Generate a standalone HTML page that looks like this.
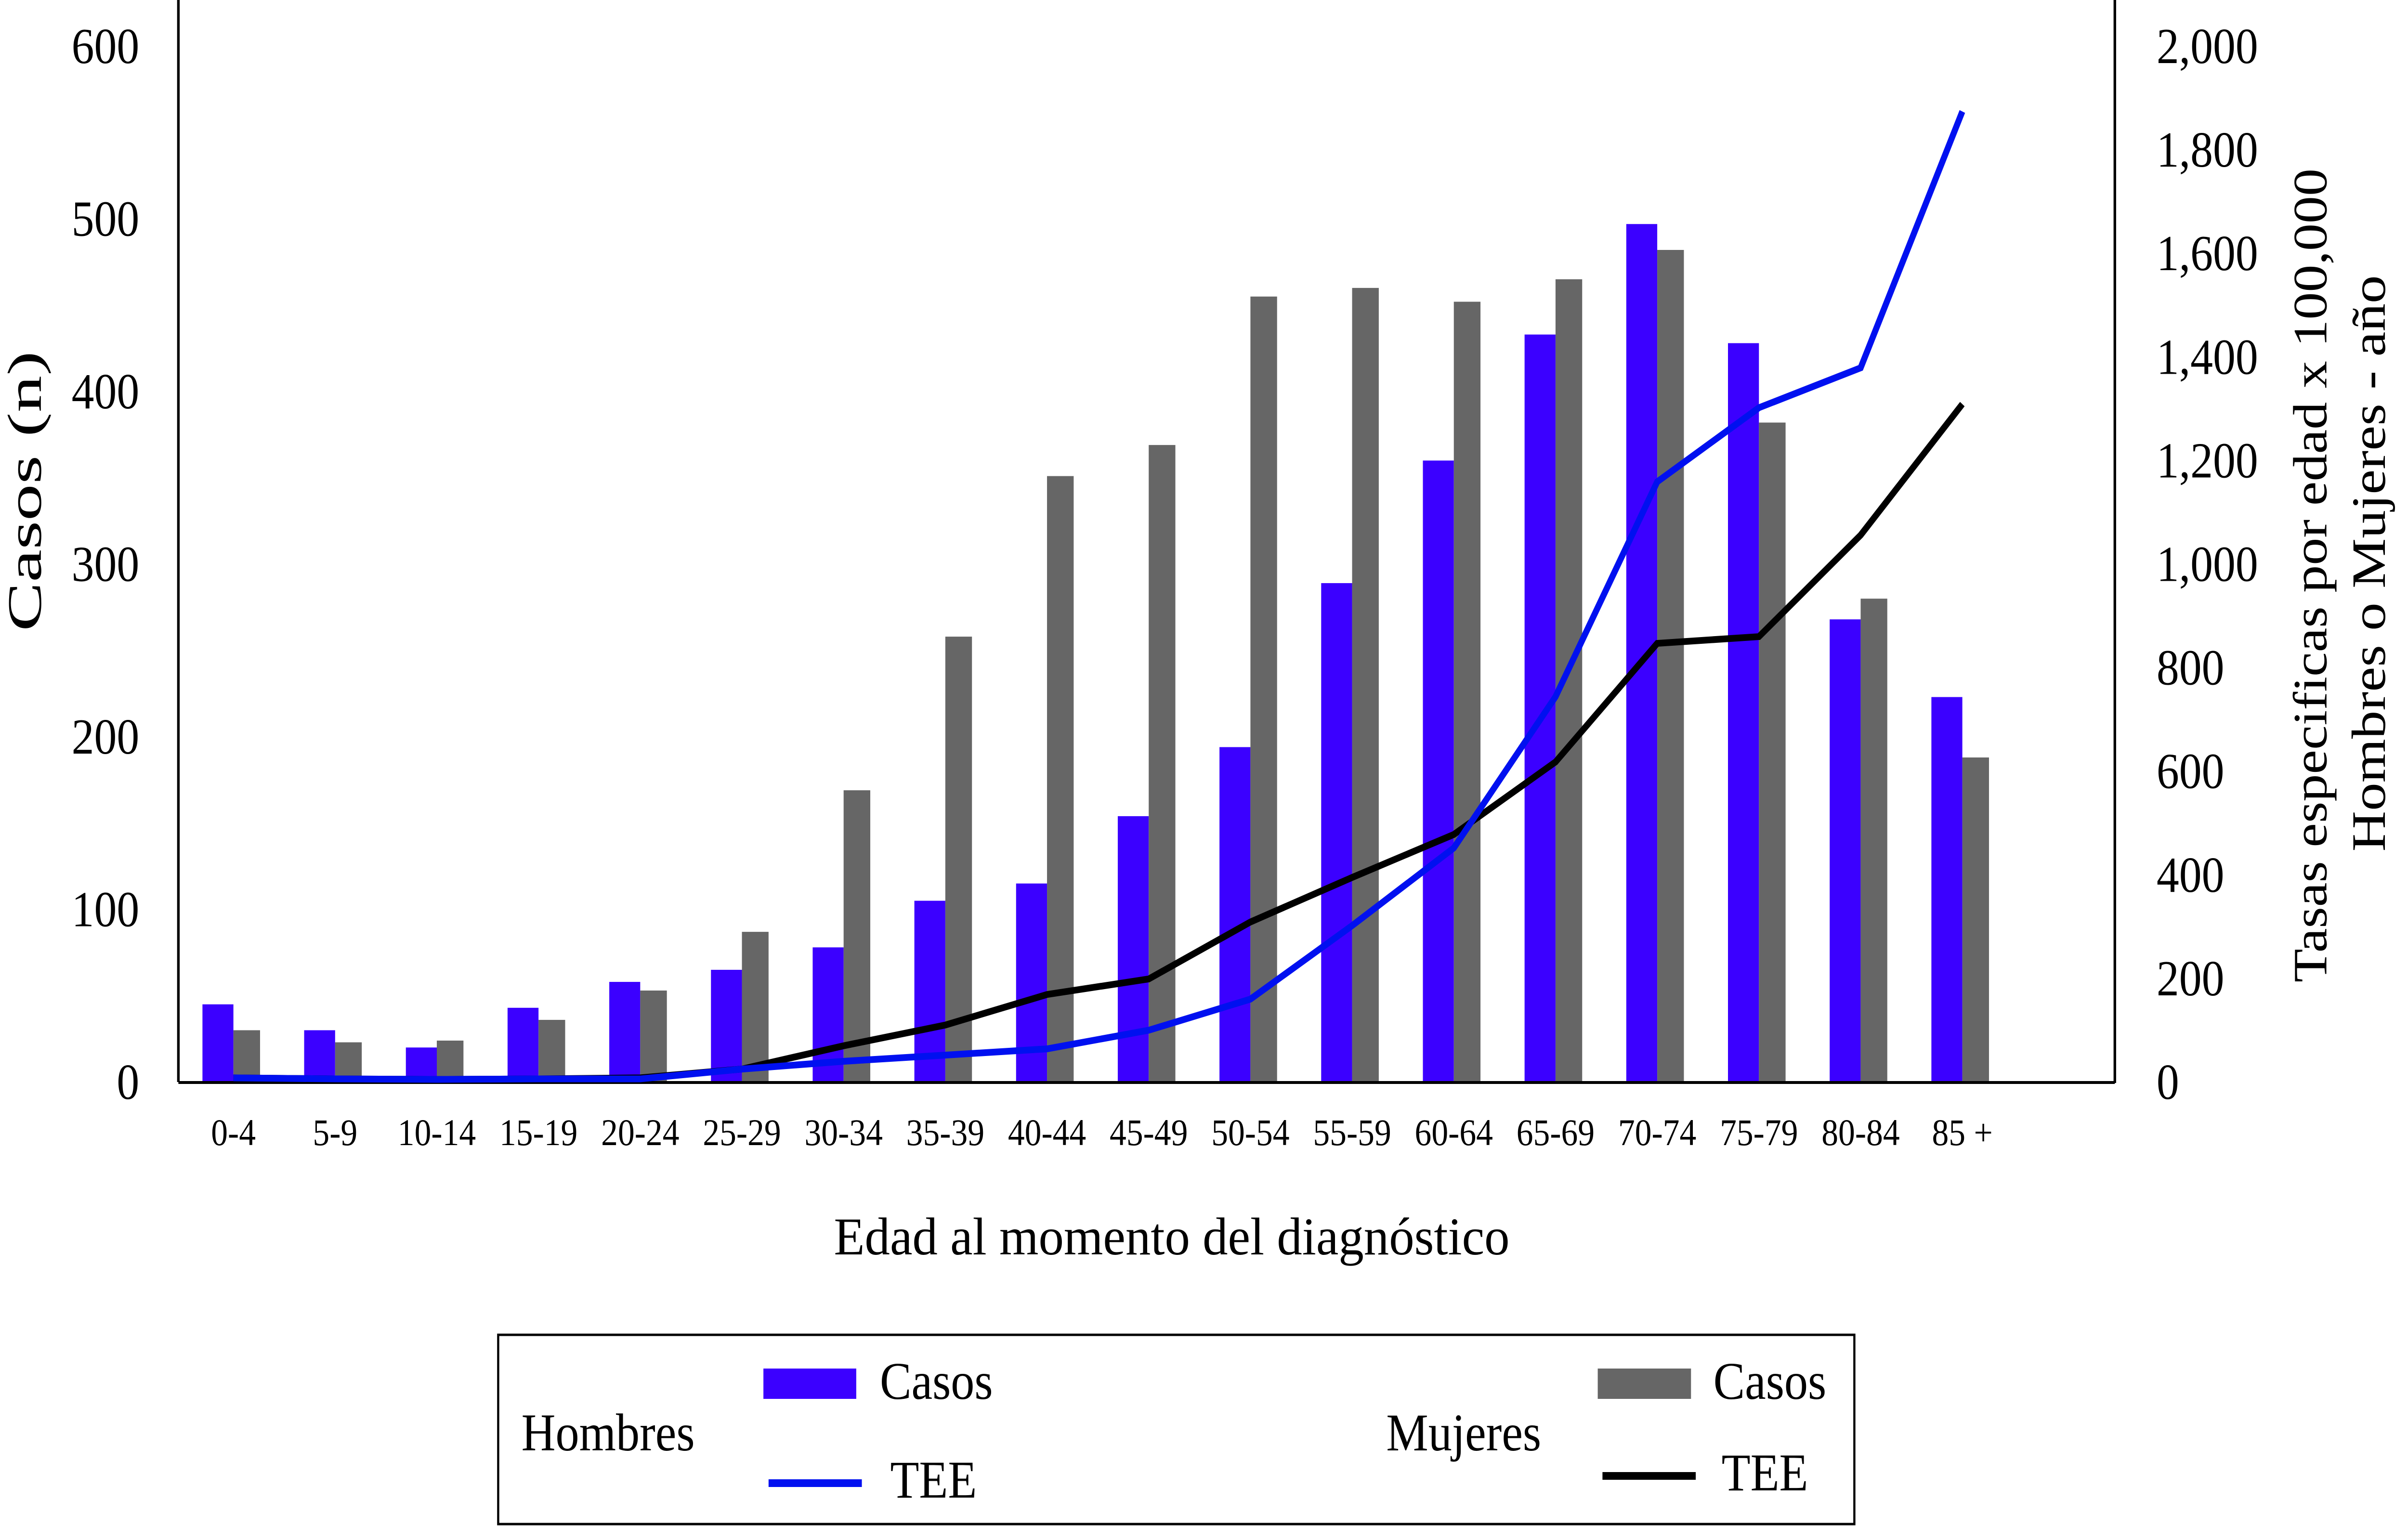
<!DOCTYPE html>
<html><head><meta charset="utf-8"><style>
html,body{margin:0;padding:0;background:#fff;width:100%;height:100%;overflow:hidden}
svg{display:block;position:absolute;left:0;top:0;width:100vw;height:100vh}
text{font-family:"Liberation Serif",serif;fill:#000}
</style></head><body>
<svg id="chart" viewBox="0 0 5602 3169" preserveAspectRatio="none" xmlns="http://www.w3.org/2000/svg" overflow="hidden">
<g id="plot"></g>
<line x1="415" y1="0" x2="415" y2="2247" stroke="#000" stroke-width="6"/>
<line x1="4920" y1="0" x2="4920" y2="2249" stroke="#000" stroke-width="6"/>
<line x1="415" y1="2248" x2="4920" y2="2248" stroke="#000" stroke-width="6"/>
<text transform="translate(95,1020) rotate(-90)" text-anchor="middle" font-size="112" textLength="582" lengthAdjust="spacingAndGlyphs">Casos (n)</text>
<text transform="translate(5412,1195) rotate(-90)" text-anchor="middle" font-size="112" textLength="1690" lengthAdjust="spacingAndGlyphs">Tasas especificas por edad x 100,000</text>
<text transform="translate(5548,1170) rotate(-90)" text-anchor="middle" font-size="112" textLength="1197" lengthAdjust="spacingAndGlyphs">Hombres o Mujeres - año</text>
<text x="2726" y="2605" text-anchor="middle" font-size="110" textLength="1572" lengthAdjust="spacingAndGlyphs">Edad al momento del diagnóstico</text>
<g>
<rect x="1159" y="2772" width="3155" height="393" fill="none" stroke="#000" stroke-width="5"/>
<text x="1213" y="3012" font-size="110">Hombres</text>
<rect x="1776" y="2842" width="216" height="63" fill="#3b00ff"/>
<text x="2047" y="2905" font-size="110">Casos</text>
<line x1="1788" y1="3080" x2="2005" y2="3080" stroke="#0010f0" stroke-width="16"/>
<text x="2071" y="3110" font-size="110">TEE</text>
<text x="3225" y="3012" font-size="110">Mujeres</text>
<rect x="3717" y="2842" width="217" height="63" fill="#666"/>
<text x="3986" y="2905" font-size="110">Casos</text>
<line x1="3728" y1="3065" x2="3945" y2="3065" stroke="#000" stroke-width="16"/>
<text x="4005" y="3095" font-size="110">TEE</text>
</g>
</svg>
<script>
const categories = ["0-4","5-9","10-14","15-19","20-24","25-29","30-34","35-39","40-44","45-49","50-54","55-59","60-64","65-69","70-74","75-79","80-84","85 +"];
const menCases = [45,30,20,43,58,65,78,105,115,154,194,289,360,433,497,428,268,223];
const womenCases = [30,23,24,36,53,87,169,258,351,369,455,460,452,465,482,382,280,188];
const menTEE = [8,6,5,6,6,25,40,52,64,100,160,302,452,744,1159,1302,1379,1874];
const womenTEE = [8,6,5,6,8,25,70,110,169,199,309,395,478,618,847,860,1056,1309];
const leftTicks = [0,100,200,300,400,500,600];
const rightTicks = [0,200,400,600,800,1000,1200,1400,1600,1800,2000];

const NS = "http://www.w3.org/2000/svg";
const svg = document.getElementById('chart');
const plot = document.getElementById('plot');
const Y0 = 2247, YTOP = 96;
function yLeft(v){ return Y0 - v/600*(Y0-YTOP); }
function yRight(v){ return Y0 - v/2000*(Y0-YTOP); }
function xGroup(i){ return 471 + i*236.6; }
const BW = 72, GW = 62;
function mk(tag, attrs, parent){ const e=document.createElementNS(NS,tag); for(const k in attrs) e.setAttribute(k,attrs[k]); (parent||svg).appendChild(e); return e; }

leftTicks.forEach(v=>{
  const t = mk('text',{x:324,y:yLeft(v)+35,'text-anchor':'end','font-size':105});
  
  
  t.textContent = v;
});
rightTicks.forEach(v=>{
  const t = mk('text',{x:5017,y:yRight(v)+35,'text-anchor':'start','font-size':105});
  
  
  t.textContent = v.toLocaleString('en-US');
});
categories.forEach((c,i)=>{
  const x = xGroup(i);
  const b = mk('rect',{x:x,y:yLeft(menCases[i]),width:BW,height:Y0-yLeft(menCases[i]),fill:'#3b00ff'},plot);
  
  
  const g = mk('rect',{x:x+BW,y:yLeft(womenCases[i]),width:GW,height:Y0-yLeft(womenCases[i]),fill:'#666'},plot);
  
  
  const t = mk('text',{x:x+BW,y:2378,'text-anchor':'middle','font-size':78});
  
  
  t.textContent = c;
});
function line(vals,color,name){
  const pts = vals.map((v,i)=>(xGroup(i)+BW)+','+yRight(v)).join(' ');
  const p = mk('polyline',{points:pts,fill:'none',stroke:color,'stroke-width':14,'stroke-linejoin':'miter'});
  
  
}
line(womenTEE,'#000','line-mujeres-tee');
line(menTEE,'#0010f0','line-hombres-tee');
</script>
</body></html>
